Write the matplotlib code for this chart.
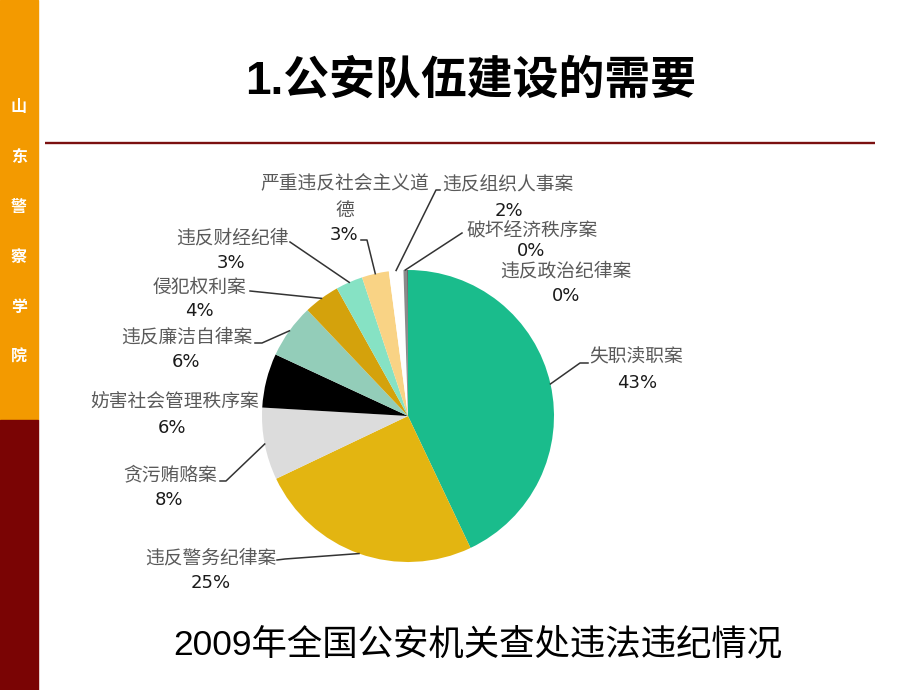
import numpy as np
import matplotlib.pyplot as plt
from matplotlib.patches import Rectangle

plt.rcParams['font.family'] = ['Noto Sans CJK SC', 'DejaVu Sans']

# data
categories = ['失职渎职案', '违反警务纪律案', '贪污贿赂案', '妨害社会管理秩序案',
              '违反廉洁自律案', '侵犯权利案', '违反财经纪律', '严重违反社会主义道\n德',
              '违反组织人事案', '破坏经济秩序案', '违反政治纪律案']
shares = [43, 25, 8, 6, 6, 4, 3, 3, 1.6, 0.4, 0.1]
pct_labels = ['43%', '25%', '8%', '6%', '6%', '4%', '3%', '3%', '2%', '0%', '0%']
colors = ['#1ABC8C', '#E3B511', '#DCDCDC', '#000000', '#93CDB9', '#D4A20C',
          '#86E2C4', '#F9D385', '#FFFFFF', '#8A8A8A', '#5A5A5A']

title = '1.公安队伍建设的需要'
caption = '2009年全国公安机关查处违法违纪情况'
side_text = '山东警察学院'

# layout (image pixel coords, y down)
W, H = 920, 690
name_xy = [(636, 357), (211, 558), (170, 475), (175, 402), (187, 337), (200, 287),
           (232, 238), (345, 197), (508, 185), (532, 230), (566, 271)]
pct_xy = [(637, 383), (211, 583), (169, 500), (172, 428), (186, 362), (199, 311),
          (231, 263), (344, 235), (509, 211), (531, 251), (566, 296)]
# leader line points from the label side; last point joins the wedge edge
leaders = [[(588, 363), (580, 363)], [(277, 560), (285, 559)], [(220, 481), (226, 481)], None,
           [(255, 343), (262, 343)], [(250, 291)], [(290, 242)], [(361, 240), (367, 240)],
           [(440, 190), (436, 190)], [(462, 233)], None]

pie_cx, pie_cy, pie_r = 408, 416, 146


def Y(y):
    return H - y


fig = plt.figure(figsize=(W / 100, H / 100), dpi=100)
ax = fig.add_axes([0, 0, 1, 1])

wedges, _ = ax.pie(shares, colors=colors, startangle=90, counterclock=False,
                   center=(pie_cx, Y(pie_cy)), radius=pie_r,
                   wedgeprops=dict(linewidth=0))
ax.set_xlim(0, W)
ax.set_ylim(0, H)
ax.set_aspect('equal')
ax.axis('off')

# side bar
ax.add_patch(Rectangle((0, Y(420)), 38, 420, color='#F39A00', zorder=0))
ax.add_patch(Rectangle((0, 0), 38, H - 420, color='#7A0404', zorder=0))
for i, ch in enumerate(side_text):
    ax.text(19, Y(107 + i * 50), ch, color='white', fontsize=11.5, fontweight='bold',
            ha='center', va='center')

# title and rule
ax.text(471, Y(82), title, fontsize=33, fontweight='bold', ha='center', va='center',
        family=['Liberation Sans', 'Noto Sans CJK SC'])
ax.plot([45, 875], [Y(143), Y(143)], color='#7B1010', lw=1.7, solid_capstyle='butt')

# labels
for i, w in enumerate(wedges):
    ax.text(name_xy[i][0], Y(name_xy[i][1]), categories[i], fontsize=13.5, color='#5A5A5A',
            ha='center', va='center', linespacing=1.35)
    ax.text(pct_xy[i][0], Y(pct_xy[i][1]), pct_labels[i], fontsize=13, color='#1A1A1A',
            ha='center', va='center', family='DejaVu Sans')
    if leaders[i] is None:
        continue
    mid = np.deg2rad((w.theta1 + w.theta2) / 2)
    ex = pie_cx + pie_r * np.cos(mid)
    ey = Y(pie_cy) + pie_r * np.sin(mid)
    xs = [p[0] for p in leaders[i]] + [ex]
    ys = [Y(p[1]) for p in leaders[i]] + [ey]
    ax.plot(xs, ys, color='#333333', lw=1.1)

ax.text(478, Y(645), caption, fontsize=25.5, ha='center', va='center',
        family=['Liberation Sans', 'Noto Sans CJK SC'])

fig.savefig('out.png', dpi=100)
